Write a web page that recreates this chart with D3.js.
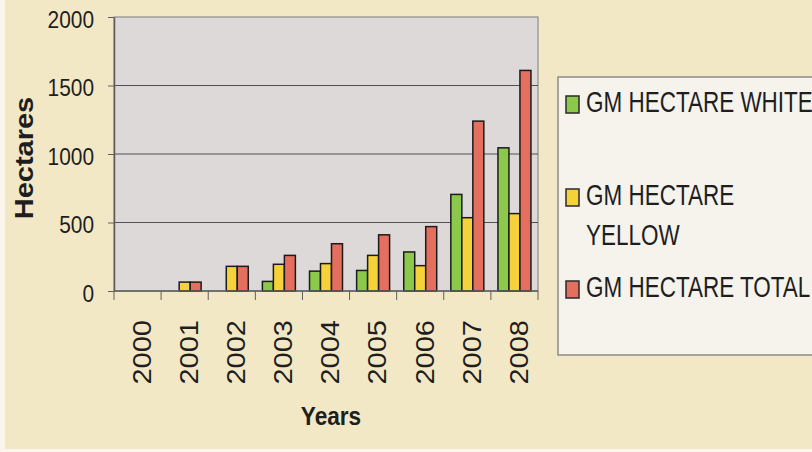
<!DOCTYPE html>
<html>
<head>
<meta charset="utf-8">
<script src="https://cdn.jsdelivr.net/npm/d3@7"></script>
<style>
  html, body { margin: 0; padding: 0; background: #faf6ec; }
  svg { display: block; }
  text { font-family: "Liberation Sans", Arial, sans-serif; fill: #1e1e1e; }
</style>
</head>
<body>
<div class="chart"></div>
<script>
const years = ['2000', '2001', '2002', '2003', '2004', '2005', '2006', '2007', '2008']
const white = [0, 0, 0, 70, 145, 150, 285, 705, 1045]
const yellow = [0, 65, 180, 195, 200, 260, 185, 535, 565]
const total = [0, 65, 180, 260, 345, 410, 470, 1240, 1610]
const yTicks = [0, 500, 1000, 1500, 2000]
const seriesNames = ['GM HECTARE WHITE', 'GM HECTARE YELLOW', 'GM HECTARE TOTAL']
const seriesKeys = ['white', 'yellow', 'total']
const colors = ['#8cc84a', '#f5d23a', '#e46f5f']

const squeeze = 0.87   // the scan is a bit narrow

const rows = years.map((y, i) => ({ year: y, white: white[i], yellow: yellow[i], total: total[i] }))

const width = 812, height = 452
const margin = { top: 17, left: 114, right: 274, bottom: 161 }
const graphWidth = width - margin.left - margin.right
const graphHeight = height - margin.top - margin.bottom

const svg = d3.select('.chart').append('svg')
  .attr('width', width)
  .attr('height', height)

svg.append('rect')
  .attr('x', 5).attr('y', 0)
  .attr('width', width - 5).attr('height', 449)
  .attr('fill', '#f3e8c6')

const graph = svg.append('g')
  .attr('transform', `translate(${margin.left},${margin.top})`)

graph.append('rect')
  .attr('width', graphWidth)
  .attr('height', graphHeight)
  .attr('fill', '#ddd9d9')
  .attr('stroke', '#8c8c8c')
  .attr('stroke-width', 1.2)

const y = d3.scaleLinear()
  .domain([0, 2000])
  .range([graphHeight, 0])

const x = d3.scaleBand()
  .domain(years)
  .range([0, graphWidth])
  .paddingInner(0.3)
  .paddingOuter(0.15)

const xs = d3.scaleBand()
  .domain(seriesKeys)
  .range([0, x.bandwidth()])

// gridlines
graph.append('g')
  .selectAll('line')
  .data(yTicks.slice(1, -1))
  .enter().append('line')
  .attr('x1', 0).attr('x2', graphWidth)
  .attr('y1', d => y(d)).attr('y2', d => y(d))
  .attr('stroke', '#505050')
  .attr('stroke-width', 1)

// bars
const groups = graph.selectAll('.yr')
  .data(rows)
  .enter().append('g')
  .attr('class', 'yr')
  .attr('transform', d => `translate(${x(d.year)},0)`)

groups.selectAll('rect')
  .data(d => seriesKeys.map((k, i) => ({ key: k, value: d[k], i: i })).filter(s => s.value > 0))
  .enter().append('rect')
  .attr('x', d => xs(d.key))
  .attr('width', xs.bandwidth())
  .attr('y', d => y(d.value))
  .attr('height', d => graphHeight - y(d.value))
  .attr('fill', d => colors[d.i])
  .attr('stroke', '#1b1b1b')
  .attr('stroke-width', 1.5)

// y axis
const groupY = graph.append('g')
groupY.call(d3.axisLeft(y).tickValues(yTicks).tickFormat(d3.format('d'))
  .tickSize(6).tickSizeOuter(0).tickPadding(14))
groupY.select('.domain').attr('stroke', '#5e5e5e').attr('stroke-width', 1.5)
groupY.selectAll('.tick line').attr('stroke', '#5e5e5e')
groupY.selectAll('.tick text')
  .attr('font-size', 24)
  .attr('font-family', '"Liberation Sans", Arial, sans-serif')
  .attr('fill', '#1e1e1e')
  .attr('x', -20 / squeeze)
  .attr('dy', '0.43em')
  .attr('transform', `scale(${squeeze},1)`)

// x axis: ticks between the bands, labels turned up
const step = x.step()
const gap = step - x.bandwidth()
const xEdges = years.map(d => x(d) - gap / 2).concat([graphWidth])
const groupX = graph.append('g')
  .attr('transform', `translate(0,${graphHeight})`)

groupX.append('line')
  .attr('x1', 0).attr('x2', graphWidth)
  .attr('stroke', '#5e5e5e')
  .attr('stroke-width', 1.5)

groupX.selectAll('.edge')
  .data(xEdges)
  .enter().append('line')
  .attr('class', 'edge')
  .attr('x1', d => d).attr('x2', d => d)
  .attr('y1', 0).attr('y2', 9)
  .attr('stroke', '#5e5e5e')

groupX.selectAll('.lbl')
  .data(years)
  .enter().append('text')
  .attr('class', 'lbl')
  .attr('transform', d => `translate(${x(d) + x.bandwidth() / 2 + 4.5},29) scale(${squeeze},1) rotate(-90)`)
  .attr('text-anchor', 'end')
  .attr('dy', '0.35em')
  .attr('font-size', 29)
  .text(d => d)

// axis titles
svg.append('text')
  .attr('transform', `translate(24,158) scale(${squeeze},1) rotate(-90)`)
  .attr('text-anchor', 'middle')
  .attr('dy', '0.36em')
  .attr('font-size', 29)
  .attr('font-weight', 'bold')
  .text('Hectares')

svg.append('text')
  .attr('transform', `translate(331,425) scale(${squeeze},1)`)
  .attr('text-anchor', 'middle')
  .attr('font-size', 26)
  .attr('font-weight', 'bold')
  .text('Years')

// legend
const legend = svg.append('g')
legend.append('rect')
  .attr('x', 558).attr('y', 77)
  .attr('width', 270).attr('height', 278)
  .attr('fill', '#f6f3ed')
  .attr('stroke', '#8a8a8a')
  .attr('stroke-width', 1.5)

const legendRows = [
  { lines: [seriesNames[0]], base: 112 },
  { lines: ['GM HECTARE', 'YELLOW'], base: 205 },
  { lines: [seriesNames[2]], base: 297 }
]

legendRows.forEach((r, i) => {
  legend.append('rect')
    .attr('x', 566).attr('y', r.base - 16)
    .attr('width', 13).attr('height', 17)
    .attr('fill', colors[i])
    .attr('stroke', '#2a2a2a')
    .attr('stroke-width', 1.5)
  r.lines.forEach((t, j) => {
    legend.append('text')
      .attr('transform', `translate(586,${r.base + j * 40}) scale(0.775,1)`)
      .attr('font-size', 29)
      .text(t)
  })
})
</script>
</body>
</html>
